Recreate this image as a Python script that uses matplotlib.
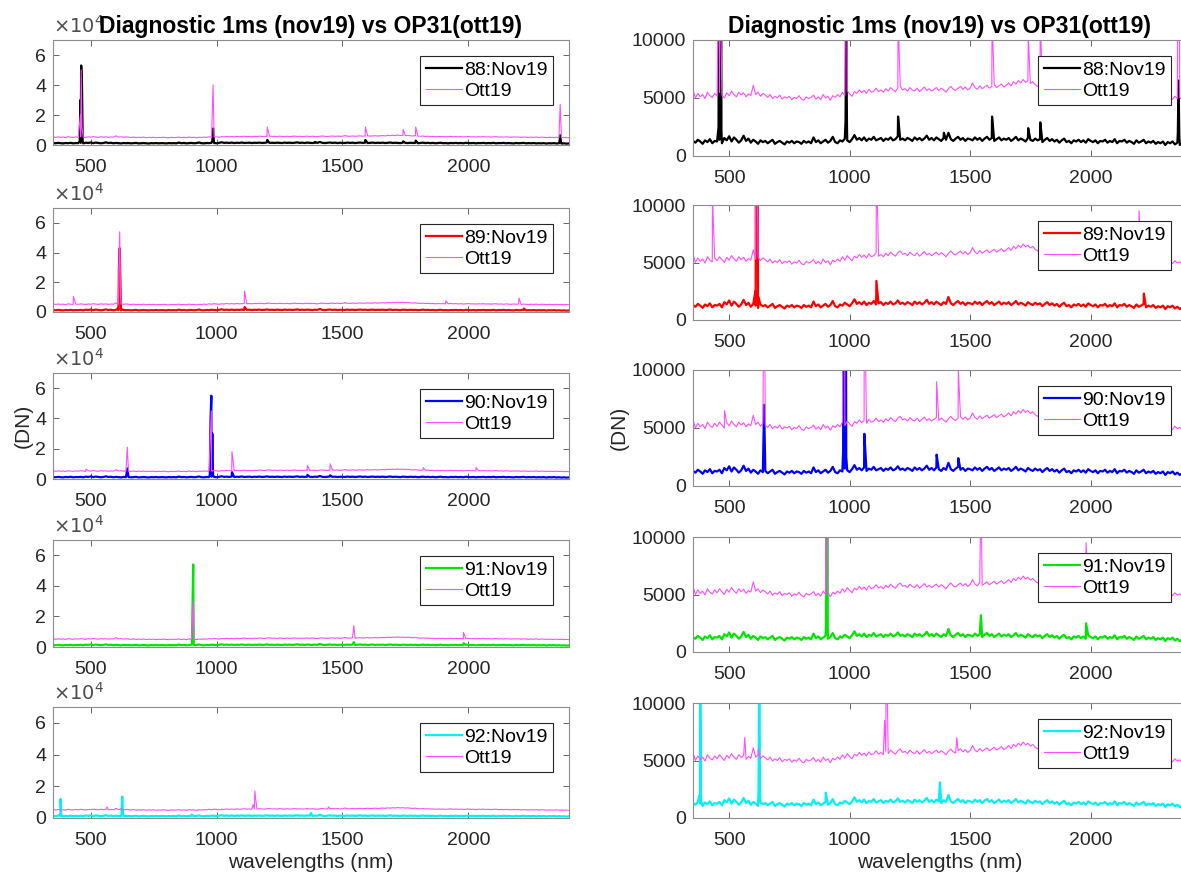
import numpy as np
import matplotlib
matplotlib.use('Agg')
import matplotlib.pyplot as plt

plt.rcParams['font.family'] = ['Liberation Sans', 'DejaVu Sans']

# wavelength sampling (nm)
wl = np.arange(350, 2401, 10)

# background level of the Nov19 diagnostic scans (DN)
nov_base = [1300, 1150, 1400, 1250, 1050, 1350, 1200, 1450, 1100, 1300,
            1250, 1400, 1100, 1550, 1350, 1700, 1250, 1600, 1400, 1150,
            1350, 1750, 1300, 1500, 1150, 1400, 1250, 1050, 1350, 1200,
            1300, 1100, 1250, 1400, 1050, 1200, 1300, 1150, 1000, 1250,
            1150, 1300, 1100, 1250, 1200, 1050, 1300, 1150, 1250, 1100,
            1600, 1200, 1350, 1100, 1250, 1400, 1150, 1300, 1650, 1200,
            1100, 1350, 1250, 1500, 1350, 1200, 1450, 1800, 1400, 1550,
            1350, 1600, 1300, 1500, 1400, 1650, 1350, 1450, 1550, 1300,
            1500, 1400, 1600, 1350, 1450, 1700, 1400, 1500, 1350, 1550,
            1450, 1300, 1600, 1400, 1550, 1350, 1500, 1750, 1400, 1550,
            1350, 1600, 1450, 1300, 1550, 1400, 2000, 1450, 1300, 1500,
            1650, 1400, 1550, 1300, 1500, 1450, 1350, 1600, 1400, 1550,
            1300, 1500, 1650, 1400, 1550, 1300, 1450, 1600, 1350, 1500,
            1400, 1550, 1300, 1450, 1650, 1350, 1500, 1400, 1250, 1550,
            1400, 1300, 1500, 1350, 1450, 1200, 1400, 1550, 1300, 1450,
            1250, 1400, 1150, 1350, 1500, 1200, 1300, 1100, 1350, 1250,
            1400, 1200, 1350, 1150, 1450, 1300, 1200, 1350, 1100, 1300,
            1250, 1400, 1150, 1300, 1200, 1450, 1100, 1300, 1250, 1400,
            1150, 1300, 1200, 1050, 1350, 1150, 1250, 1400, 1100, 1250,
            1150, 1300, 1050, 1200, 1100, 1250, 950, 1200, 1100, 1250,
            1000, 1150, 950, 1100, 900, 1050]

# background level of the OP31 Ott19 scans (DN)
ott_base = [5700, 5000, 5400, 5100, 5300, 4950, 5500, 5200, 5050, 5400,
            5150, 5500, 5250, 5000, 5450, 5200, 5600, 5300, 5100, 5500,
            5250, 5450, 5100, 5350, 5200, 6100, 5300, 5500, 5150, 5400,
            5250, 5050, 5300, 4950, 5150, 5000, 5250, 4900, 5100, 5000,
            5150, 4850, 5050, 4950, 5200, 4900, 4800, 5100, 4950, 5050,
            5250, 4900, 5100, 4850, 5300, 5000, 5150, 4800, 5200, 5050,
            5300, 5100, 5500, 5200, 5600, 5350, 5150, 5550, 5400, 5700,
            5450, 5650, 5400, 5750, 5500, 5600, 5850, 5550, 5700, 5500,
            5800, 5600, 5900, 5700, 5550, 5850, 6000, 5700, 5800, 5600,
            5900, 5700, 5600, 5850, 5550, 5750, 5950, 5650, 5800, 5600,
            5750, 5900, 5650, 5850, 5700, 5500, 5800, 6000, 5750, 5650,
            5850, 6000, 5750, 5950, 5700, 5850, 6300, 5900, 5750, 6050,
            5800, 5950, 6100, 5850, 6000, 6150, 5900, 6050, 6200, 5950,
            6100, 6300, 6050, 6400, 6200, 6500, 6300, 6600, 6350, 6500,
            6250, 6400, 6150, 6000, 6200, 5900, 5800, 5950, 5700, 5850,
            5600, 5750, 5500, 5700, 5550, 5650, 5450, 5600, 5750, 5500,
            5650, 5450, 5600, 5350, 5550, 5700, 5450, 5500, 5300, 5550,
            5400, 5600, 5350, 5500, 5250, 5450, 5550, 5300, 5400, 5200,
            5450, 5300, 5150, 5400, 5250, 5350, 5100, 5300, 5200, 5050,
            5250, 5100, 5300, 5000, 5200, 5150, 4950, 5100, 5050, 4900,
            5150, 4950, 5050, 4850, 5000, 4800]

# spikes (wavelength, DN) per scan
nov88_peaks = [(456, 2500), (459, 30000), (462, 53000), (465, 42000), (468, 2200),
               (983, 3000), (986, 11000), (989, 2500), (1201, 3400), (1391, 2000),
               (1591, 3400), (1741, 2400), (1791, 2900), (2362, 2000), (2365, 6500), (2368, 1800)]
ott88_peaks = [(459, 20000), (462, 50000), (465, 12000), (986, 40000), (1201, 12000),
               (1591, 12000), (1741, 10500), (1791, 12000), (2365, 27000)]

nov89_peaks = [(609, 2500), (612, 30000), (615, 43000), (618, 20000), (621, 2000),
               (1111, 3400), (2221, 2300)]
ott89_peaks = [(431, 10500), (612, 30000), (615, 54000), (618, 12000), (1111, 14000),
               (1911, 7500), (2201, 9500)]

nov90_peaks = [(645, 7000), (973, 3000), (976, 40000), (979, 55000), (983, 30000), (986, 2500),
               (1061, 4500), (1361, 2700), (1451, 2400)]
ott90_peaks = [(481, 6500), (645, 21000), (979, 45000), (1061, 18000), (1361, 9000),
               (1451, 10000), (1821, 7500), (2031, 7500)]

nov91_peaks = [(902, 2500), (905, 35000), (907, 54000), (909, 2500),
               (1545, 3200), (1981, 2500)]
ott91_peaks = [(907, 30000), (1545, 14000), (1981, 9500)]

nov92_peaks = [(377, 2000), (380, 12000), (383, 1500), (622, 2500), (625, 13500), (628, 2500),
               (901, 2200), (1375, 3100)]
ott92_peaks = [(565, 7000), (621, 6000), (1145, 8500), (1152, 17000), (1445, 7000)]

scans = ['88', '89', '90', '91', '92']
nov_colors = ['#000000', '#ff0000', '#0000ff', '#00e600', '#00f2f2']
ott_color = '#ff4dff'
nov_peaks = [nov88_peaks, nov89_peaks, nov90_peaks, nov91_peaks, nov92_peaks]
ott_peaks = [ott88_peaks, ott89_peaks, ott90_peaks, ott91_peaks, ott92_peaks]

# axes boxes in pixels (top, bottom)
left_rows = [(40, 145), (208, 312), (373, 479), (540, 647), (707, 818)]
right_rows = [(40, 156), (205, 320), (370, 486), (537, 652), (703, 818)]
W, H = 1181, 882


def merge(base, peaks):
    x = list(wl) + [p[0] for p in peaks]
    y = list(base) + [p[1] for p in peaks]
    order = np.argsort(x, kind='stable')
    return np.array(x)[order], np.array(y)[order]


def style(ax):
    ax.set_xlim(350, 2400)
    ax.set_xticks([500, 1000, 1500, 2000])
    ax.tick_params(direction='in', top=True, right=True, length=4, width=0.6,
                   labelsize=14, colors='#4d4d4d', labelcolor='#262626')
    ax.tick_params(axis='x', pad=10)
    ax.tick_params(axis='y', pad=5)
    for s in ax.spines.values():
        s.set_color('#8c8c8c')
        s.set_linewidth(0.8)


fig = plt.figure(figsize=(W / 100, H / 100), dpi=100)

for i in range(5):
    nx, ny = merge(nov_base, nov_peaks[i])
    ox, oy = merge(ott_base, ott_peaks[i])
    for col in range(2):
        if col == 0:
            top, bot = left_rows[i]
            rect = [53 / W, 1 - bot / H, 516 / W, (bot - top) / H]
        else:
            top, bot = right_rows[i]
            rect = [693 / W, 1 - bot / H, 494 / W, (bot - top) / H]
        ax = fig.add_axes(rect)
        ax.plot(nx, ny, color=nov_colors[i], lw=1.6, label=scans[i] + ':Nov19')
        ax.plot(ox, oy, color=ott_color, lw=0.8, label='Ott19')
        style(ax)
        if col == 0:
            ax.set_ylim(0, 70000)
            ax.set_yticks([0, 20000, 40000, 60000])
            ax.set_yticklabels(['0', '2', '4', '6'])
            ax.text(0, 1.03, r'$\times10^4$', transform=ax.transAxes, fontsize=14,
                    color='#4d4d4d', ha='left', va='bottom')
        else:
            ax.set_ylim(0, 10000)
            ax.set_yticks([0, 5000, 10000])
        leg = ax.legend(loc='upper right', fontsize=14, fancybox=False, framealpha=1,
                        edgecolor='#262626', handlelength=1.85, borderpad=0.3,
                        labelspacing=0.15, handletextpad=0.1, borderaxespad=0.8)
        leg.get_frame().set_linewidth(0.8)
        if i == 0:
            ax.set_title('Diagnostic 1ms (nov19) vs OP31(ott19)', fontsize=16.5,
                         fontweight='bold', pad=5)
        if i == 2:
            ax.set_ylabel('(DN)', fontsize=15, color='#262626', labelpad=2)
        if i == 4:
            ax.set_xlabel('wavelengths (nm)', fontsize=15, color='#262626', labelpad=3)

fig.savefig('out.png', dpi=100)
